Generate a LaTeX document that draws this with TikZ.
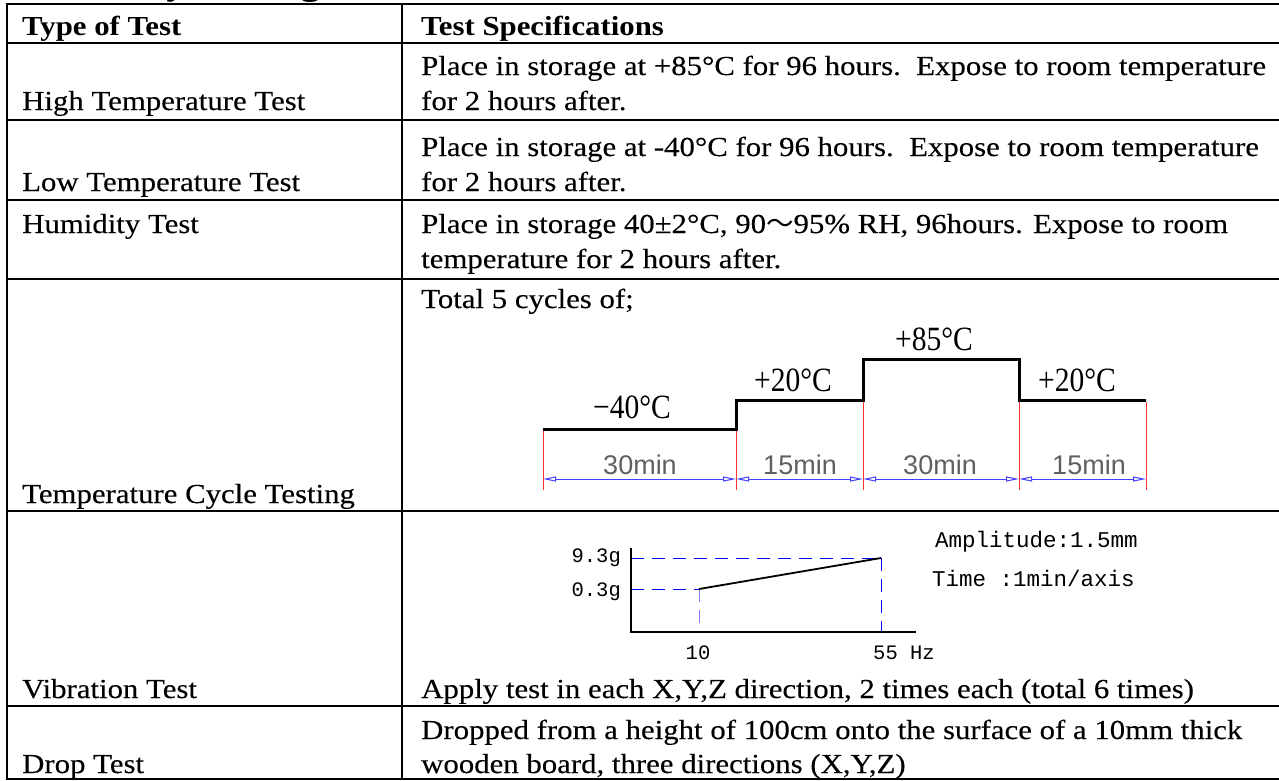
\documentclass[tikz,border=0pt]{standalone}
\usepackage{fontspec}
\setmainfont{Liberation Serif}[FakeStretch=1.12, UprightFeatures={FakeBold=0.2}]
\newfontfamily\labelfont{Liberation Serif}
\newfontfamily\cjkfont{Noto Sans CJK SC}
\newfontfamily\monofont{Liberation Mono}
\newfontfamily\dimfont{Liberation Sans}
\usetikzlibrary{arrows.meta}
\definecolor{dimblue}{HTML}{4040FF}
\definecolor{tickred}{HTML}{FF3030}
\definecolor{dashblue}{HTML}{0000FF}
\definecolor{paleblue}{HTML}{8080FF}
\definecolor{dimgray}{HTML}{606060}
\begin{document}
\begin{tikzpicture}[x=1pt,y=-1pt,
  body/.style={anchor=base west, inner sep=0pt, font=\fontsize{27.5}{33}\selectfont},
  head/.style={anchor=base west, inner sep=0pt, font=\fontsize{27.5}{33}\selectfont\bfseries},
  rule/.style={line width=2.2pt, line cap=rect},
  stepline/.style={line width=3pt, line join=miter},
  redtick/.style={draw=tickred, line width=1pt},
  dimline/.style={draw=dimblue, line width=1pt,
     {Triangle[open,length=13pt,width=5pt]}-{Triangle[open,length=13pt,width=5pt]}},
  tlabel/.style={anchor=center, inner sep=0pt, font=\labelfont\fontsize{34}{36}\selectfont},
  dlabel/.style={anchor=center, inner sep=0pt, text=dimgray, font=\dimfont\fontsize{27}{29}\selectfont},
  vlabel/.style={inner sep=0pt, font=\monofont\fontsize{20.5}{22}\selectfont},
  vnote/.style={anchor=base west, inner sep=0pt, font=\monofont\fontsize{22.5}{24}\selectfont},
  bluedash/.style={draw=dashblue, line width=1pt, dash pattern=on 13pt off 8pt},
  axis/.style={line width=1.2pt}]
\useasboundingbox (0,0) rectangle (1279,780);
\clip (0,0) rectangle (1279,780);
\fill[white] (0,0) rectangle (1279,780);

% cut-off title
\node[anchor=base west, inner sep=0pt, font=\fontsize{36}{40}\selectfont\bfseries] (title) at (7,-5.5) {Reliability Testing};

% table rules
\foreach \yy in {4,43,120,200,279,511,706,779}
  \draw[rule] (7,\yy) -- (1300,\yy);
\draw[rule] (7,4) -- (7,779);
\draw[rule] (402,4) -- (402,779);

% header
\node[head] (h1) at (22,35) {Type of Test};
\node[head] (h2) at (421,35) {Test Specifications};

% high temperature
\node[body] (ht) at (22,110) {High Temperature Test};
\node[body] (hts1) at (421,75) {Place in storage at +85°C for 96 hours.\ \ Expose to room temperature};
\node[body] (hts2) at (421,110) {for 2 hours after.};

% low temperature
\node[body] (lt) at (22,191) {Low Temperature Test};
\node[body] (lts1) at (421,156) {Place in storage at -40°C for 96 hours.\ \ Expose to room temperature};
\node[body] (lts2) at (421,191) {for 2 hours after.};

% humidity
\node[body] (hu) at (22,233) {Humidity Test};
\node[body] (hus1) at (421,233) {Place in storage 40±2°C, 90{\cjkfont ～}95\% RH, 96hours. Expose to room};
\node[body] (hus2) at (421,268) {temperature for 2 hours after.};

% temperature cycle
\node[body] (tc) at (22,503) {Temperature Cycle Testing};
\node[body] (tcs) at (421,308) {Total 5 cycles of;};

\draw[stepline] (543,429) -- (736,429) -- (736,400) -- (863,400) -- (863,359) -- (1019,359) -- (1019,400) -- (1146,400);
\draw[redtick] (543,431) -- (543,490);
\draw[redtick] (736,431) -- (736,490);
\draw[redtick] (863,402) -- (863,490);
\draw[redtick] (1019,402) -- (1019,490);
\draw[redtick] (1146,402) -- (1146,490);
\coordinate (d0) at (543,479);
\coordinate (d1) at (736,479);
\coordinate (d2) at (863,479);
\coordinate (d3) at (1019,479);
\coordinate (d4) at (1146,479);
\draw[dimline] (d0) -- (d1);
\draw[dimline] (d1) -- (d2);
\draw[dimline] (d2) -- (d3);
\draw[dimline] (d3) -- (d4);

\node[tlabel] (tm40) at (632,407) {\scalebox{0.87}[1]{−40°C}};
\node[tlabel] (tp20a) at (793,380) {\scalebox{0.87}[1]{+20°C}};
\node[tlabel] (tp85) at (934,339) {\scalebox{0.87}[1]{+85°C}};
\node[tlabel] (tp20b) at (1077,380) {\scalebox{0.87}[1]{+20°C}};

\node[dlabel] (m1) at (640,465) {30min};
\node[dlabel] (m2) at (800,465) {15min};
\node[dlabel] (m3) at (940,465) {30min};
\node[dlabel] (m4) at (1089,465) {15min};

% vibration
\node[body] (vb) at (22,698) {Vibration Test};
\node[body] (vbs) at (421,698) {Apply test in each X,Y,Z direction, 2 times each (total 6 times)};

\coordinate (org) at (631,632);
\coordinate (ytop) at (631,548);
\coordinate (xend) at (916,632);
\coordinate (p10) at (699,589);
\coordinate (p55) at (881,558);
\coordinate (y93) at (631,558);
\coordinate (y03) at (631,589);
\coordinate (x10) at (699,632);
\coordinate (x55) at (881,632);
\draw[bluedash] (y93) -- (p55);
\draw[bluedash] (y03) -- (p10);
\draw[bluedash, draw=paleblue] (p10) -- (x10);
\draw[bluedash] (p55) -- (x55);
\draw[axis] (ytop) -- (org) -- (xend);
\draw[line width=1.8pt] (p10) -- (p55);

\node[vlabel, anchor=base east] (l93) at (621,562) {9.3g};
\node[vlabel, anchor=base east] (l03) at (621,596) {0.3g};
\node[vlabel, anchor=base] (l10) at (698,659) {10};
\node[vlabel, anchor=base west] (l55) at (873,659) {55 Hz};
\node[vnote] (amp) at (935,547) {Amplitude:1.5mm};
\node[vnote] (tim) at (932,586) {Time :1min/axis};

% drop
\node[body] (dr) at (22,773) {Drop Test};
\node[body] (drs1) at (421,739) {Dropped from a height of 100cm onto the surface of a 10mm thick};
\node[body] (drs2) at (421,773) {wooden board, three directions (X,Y,Z)};
\end{tikzpicture}
\end{document}
